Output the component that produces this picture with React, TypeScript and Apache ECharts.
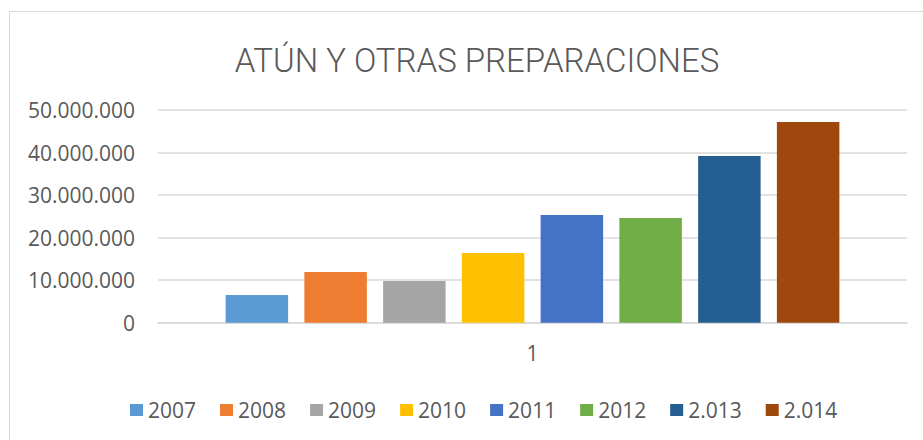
import React, { useEffect, useRef } from "react";
import * as echarts from "echarts";

const categories = ["1"];
const seriesNames = ["2007", "2008", "2009", "2010", "2011", "2012", "2.013", "2.014"];
const seriesValues = [6500000, 11900000, 9800000, 16400000, 25300000, 24600000, 39200000, 47200000];
const seriesColors = ["#5B9BD5", "#ED7D31", "#A5A5A5", "#FFC000", "#4472C4", "#70AD47", "#255E91", "#9E480E"];
const yTicks = [0, 10000000, 20000000, 30000000, 40000000, 50000000];

const fmt = (v: number) => String(Math.round(v)).replace(/\B(?=(\d{3})+(?!\d))/g, ".");

export default function App() {
  const ref = useRef<HTMLDivElement>(null);
  useEffect(() => {
    if (!ref.current) return;
    const chart = echarts.init(ref.current, null, { renderer: "svg" });
    const font = "'Open Sans', sans-serif";
    chart.setOption({
      animation: false,
      backgroundColor: "#ffffff",
      title: {
        text: "ATÚN Y OTRAS PREPARACIONES",
        left: 472,
        textAlign: "center",
        top: 35,
        textStyle: {
          fontFamily: "Roboto, sans-serif",
          fontWeight: 300,
          fontSize: 33,
          lineHeight: 40,
          color: "#595959",
        },
      },
      graphic: [
        {
          type: "rect",
          shape: { x: 9.5, y: 11.5, width: 1000, height: 500 },
          style: { fill: "none", stroke: "#d9d9d9", lineWidth: 1 },
          silent: true,
        },
      ],
      legend: {
        data: seriesNames,
        left: 125,
        top: 393,
        itemWidth: 13,
        itemHeight: 12,
        itemGap: 24,
        icon: "rect",
        textStyle: { fontFamily: font, fontSize: 21, color: "#595959", lineHeight: 24 },
      },
      grid: { left: 158, right: 16, top: 110, bottom: 117.3 },
      xAxis: {
        type: "category",
        data: categories,
        axisLine: { lineStyle: { color: "#d9d9d9", width: 1.5 } },
        axisTick: { show: false },
        axisLabel: { fontFamily: font, fontSize: 21, color: "#595959", margin: 20 },
      },
      yAxis: {
        type: "value",
        min: yTicks[0],
        max: yTicks[yTicks.length - 1],
        interval: yTicks[1] - yTicks[0],
        axisLine: { show: false },
        axisTick: { show: false },
        splitLine: { lineStyle: { color: "#d9d9d9", width: 1.5 } },
        axisLabel: {
          fontFamily: font,
          fontSize: 21,
          color: "#595959",
          margin: 23,
          formatter: (v: number) => fmt(v),
        },
      },
      series: seriesNames.map((name, i) => ({
        name,
        type: "bar",
        data: [seriesValues[i]],
        barWidth: 62.5,
        barGap: "26%",
        itemStyle: { color: seriesColors[i] },
      })),
    });
    return () => chart.dispose();
  }, []);
  return (
    <div
      ref={ref}
      style={{ position: "fixed", left: 0, top: 0, width: 923, height: 440 }}
    />
  );
}
